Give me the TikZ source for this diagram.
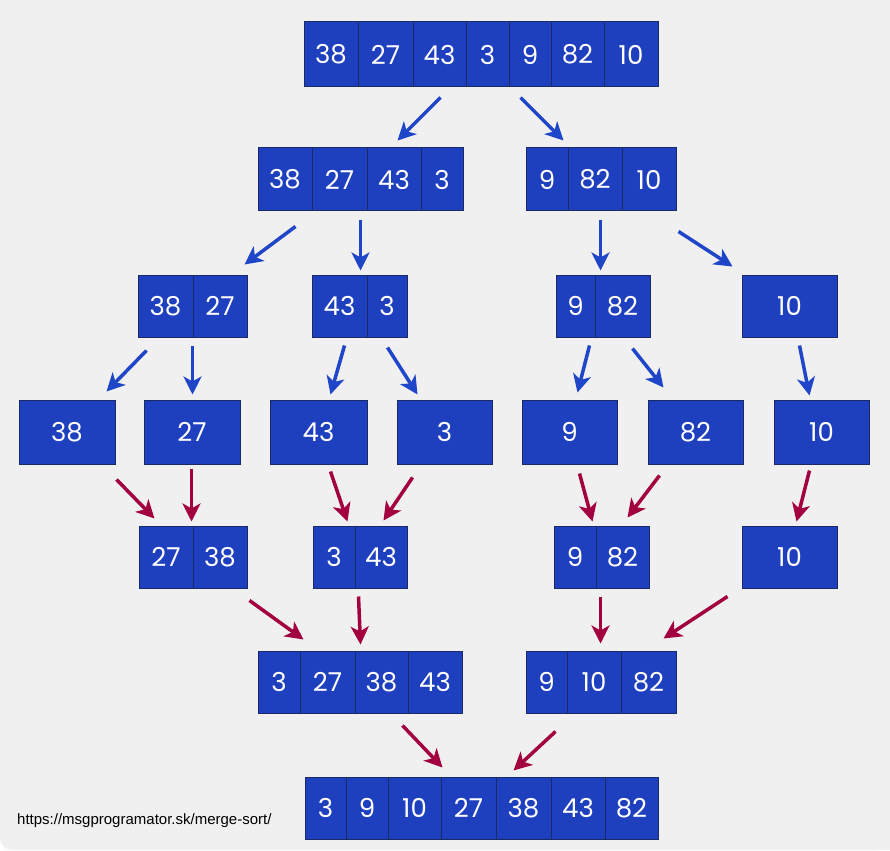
\documentclass[tikz,border=0pt]{standalone}
\usepackage{fontspec}
\setmainfont{Poppins}
\newfontfamily\urlfont{Liberation Sans}
\usetikzlibrary{arrows.meta,calc}
\definecolor{bg}{HTML}{F0F0F0}
\definecolor{cellblue}{HTML}{1E40BF}
\definecolor{navy}{HTML}{1A2A66}
\definecolor{arrblue}{HTML}{1F45C8}
\definecolor{arrred}{HTML}{A3003F}
\tikzset{
  cellst/.style={draw=navy, line width=1pt, fill=cellblue, text=white, inner sep=0pt,
    font=\fontsize{26}{26}\selectfont},
  barr/.style={draw=arrblue, line width=3.5pt, -{Stealth[length=18pt,width=18pt,inset=5pt]}},
  rarr/.style={draw=arrred, line width=3.5pt, -{Stealth[length=18pt,width=18pt,inset=5pt]}},
}
% #1 name, #2 top y, #3 bottom y, #4 list of left/right/label
\newcommand\cellrow[4]{%
  \foreach \xa/\xb/\lab [count=\i] in {#4} {
    \node[cellst, minimum width={(\xb-\xa)*1pt}, minimum height={(#3-#2)*1pt}]
      (#1-\i) at ({(\xa+\xb)/2},{(#2+#3)/2}) {\lab};
  }%
}
% #1 style, #2 node, #3 offset, #4 node, #5 offset
\newcommand\conn[5]{\draw[#1] ($(#2.south west)+(#3)$) -- ($(#4.north west)+(#5)$);}
\begin{document}
\begin{tikzpicture}[x=1pt,y=-1pt]
\fill[white] (0,0) rectangle (890,850);
\fill[bg, rounded corners=12pt] (0,0) rectangle (890,850);
\fill[bg] (0,0) rectangle (40,40);
\fill[bg] (850,0) rectangle (890,40);
\fill[bg] (850,810) rectangle (890,850);
\useasboundingbox (0,0) rectangle (890,850);

\cellrow{t}{22}{87}{304/358/38,358/413/27,413/466/43,466/509/3,509/551/9,551/604/82,604/658/10}
\cellrow{l}{148}{211}{258/312/38,312/367/27,367/421/43,421/463/3}
\cellrow{r}{148}{211}{526/568/9,568/622/82,622/676/10}
\cellrow{ll}{275}{337}{138/193/38,193/247/27}
\cellrow{lr}{275}{337}{312/367/43,367/407/3}
\cellrow{rl}{275}{337}{556/595/9,595/650/82}
\cellrow{rr}{275}{337}{742/837/10}
\cellrow{a}{400}{464}{19/115/38}
\cellrow{b}{400}{464}{144/240/27}
\cellrow{c}{400}{464}{270/367/43}
\cellrow{d}{400}{464}{397/492/3}
\cellrow{e}{400}{464}{522/617/9}
\cellrow{f}{400}{464}{648/743/82}
\cellrow{g}{400}{464}{774/869/10}
\cellrow{ma}{526}{588}{139/193/27,193/247/38}
\cellrow{mb}{526}{588}{313/355/3,355/407/43}
\cellrow{mc}{526}{588}{554/596/9,596/649/82}
\cellrow{md}{526}{588}{742/837/10}
\cellrow{na}{651}{713}{258/300/3,300/355/27,355/408/38,408/462/43}
\cellrow{nb}{651}{713}{526/567/9,567/621/10,621/676/82}
\cellrow{fin}{777}{839}{305/346/3,346/388/9,388/441/10,441/496/27,496/551/38,551/605/43,605/658/82}

\conn{barr}{t-3}{28,10}{l-3}{31,-7}
\conn{barr}{t-5}{12,10}{r-1}{38,-7}
\conn{barr}{l-1}{38,15}{ll-2}{52,-10}
\conn{barr}{l-2}{49,8}{lr-1}{49,-4}
\conn{barr}{r-2}{33,8}{rl-2}{6,-4}
\conn{barr}{r-3}{57,20}{rr-1}{-9,-8}
\conn{barr}{ll-1}{9,13}{a-1}{88,-8}
\conn{barr}{ll-2}{0,8}{b-1}{49,-5}
\conn{barr}{lr-1}{33,8}{c-1}{61,-5}
\conn{barr}{lr-2}{21,10}{d-1}{21,-5}
\conn{barr}{rl-1}{34,8}{e-1}{56,-7}
\conn{barr}{rl-2}{38,11}{f-1}{16,-12}
\conn{barr}{rr-1}{58,8}{g-1}{36,-4}

\conn{rarr}{a-1}{98,15}{ma-1}{16,-7}
\conn{rarr}{b-1}{48,4}{ma-2}{-1,-4}
\conn{rarr}{c-1}{61,7}{mb-1}{35,-4}
\conn{rarr}{d-1}{16,13}{mb-2}{29,-5}
\conn{rarr}{e-1}{58,9}{mc-1}{39,-4}
\conn{rarr}{f-1}{12,11}{mc-2}{32,-8}
\conn{rarr}{g-1}{36,6}{md-1}{55,-4}
\conn{rarr}{ma-2}{57,12}{na-2}{4,-11}
\conn{rarr}{mb-1}{46,8}{na-3}{6,-6}
\conn{rarr}{mc-2}{5,8}{nb-2}{34,-7}
\conn{rarr}{md-1}{-14,8}{nb-3}{43,-12}
\conn{rarr}{na-3}{48,12}{fin-4}{2,-9}
\conn{rarr}{nb-1}{30,18}{fin-5}{18,-6}

\node[anchor=west, inner sep=0pt, font=\urlfont\fontsize{15}{16}\selectfont] (url) at (17,821) {https://msgprogramator.sk/merge-sort/};
\end{tikzpicture}
\end{document}
